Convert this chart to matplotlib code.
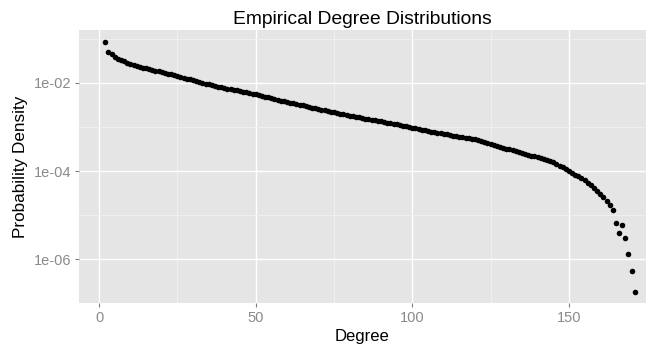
import numpy as np
import matplotlib
matplotlib.use("Agg")
import matplotlib.pyplot as plt
from matplotlib.ticker import FixedLocator, NullFormatter

plt.rcParams['font.family'] = ['Liberation Sans', 'DejaVu Sans']

# degree values (x)
degree = list(range(2, 172))

# log10 of probability density, one per degree 2..171
log10_density = [
    -1.085, -1.298, -1.357, -1.416, -1.455, -1.488, -1.516, -1.545, -1.570, -1.597,   # 2-11
    -1.620, -1.640, -1.658, -1.676, -1.693, -1.710, -1.727, -1.744, -1.761, -1.778,   # 12-21
    -1.795, -1.812, -1.829, -1.849, -1.868, -1.887, -1.906, -1.925, -1.944, -1.964,   # 22-31
    -1.983, -2.002, -2.021, -2.040, -2.059, -2.073, -2.088, -2.103, -2.117, -2.132,   # 32-41
    -2.147, -2.161, -2.176, -2.191, -2.205, -2.220, -2.234, -2.250, -2.267, -2.284,   # 42-51
    -2.301, -2.318, -2.335, -2.352, -2.369, -2.386, -2.403, -2.420, -2.437, -2.452,   # 52-61
    -2.468, -2.484, -2.500, -2.516, -2.532, -2.548, -2.564, -2.580, -2.596, -2.612,   # 62-71
    -2.628, -2.643, -2.657, -2.671, -2.686, -2.700, -2.714, -2.729, -2.743, -2.757,   # 72-81
    -2.772, -2.786, -2.800, -2.812, -2.825, -2.838, -2.851, -2.864, -2.877, -2.890,   # 82-91
    -2.903, -2.916, -2.929, -2.942, -2.955, -2.970, -2.985, -3.001, -3.016, -3.032,   # 92-101
    -3.047, -3.063, -3.078, -3.094, -3.109, -3.125, -3.138, -3.150, -3.161, -3.173,   # 102-111
    -3.185, -3.196, -3.208, -3.220, -3.231, -3.243, -3.255, -3.267, -3.278, -3.297,   # 112-121
    -3.318, -3.340, -3.361, -3.383, -3.404, -3.426, -3.448, -3.469, -3.491, -3.512,   # 122-131
    -3.534, -3.553, -3.573, -3.592, -3.612, -3.632, -3.651, -3.671, -3.690, -3.710,   # 132-141
    -3.730, -3.749, -3.769, -3.800, -3.838, -3.878, -3.918, -3.958, -3.998, -4.040,   # 142-151
    -4.082, -4.124, -4.168, -4.215, -4.268, -4.325, -4.385, -4.448, -4.515, -4.590,   # 152-161
    -4.675, -4.770, -4.880, -5.185, -5.411, -5.223, -5.511, -5.887, -6.258, -6.734,   # 162-171
]
density = [10 ** v for v in log10_density]

x_ticks = [0, 50, 100, 150]
x_minor = [25, 75, 125, 175]
y_ticks = [1e-2, 1e-4, 1e-6]
y_tick_labels = ["1e-02", "1e-04", "1e-06"]
y_minor = [1e-1, 1e-3, 1e-5, 1e-7]

title = "Empirical Degree Distributions"
xlabel = "Degree"
ylabel = "Probability Density"

fig = plt.figure(figsize=(6.5, 3.44), dpi=100)
ax = fig.add_axes([79 / 650, 1 - 303 / 344, (646 - 79) / 650, (303 - 30) / 344])
ax.set_facecolor("#E5E5E5")
for s in ax.spines.values():
    s.set_visible(False)

ax.set_yscale("log")
ax.set_xlim(-6.4, 174.6)
ax.set_ylim(10 ** -6.99, 10 ** -0.806)

ax.xaxis.set_major_locator(FixedLocator(x_ticks))
ax.xaxis.set_minor_locator(FixedLocator(x_minor))
ax.yaxis.set_major_locator(FixedLocator(y_ticks))
ax.yaxis.set_minor_locator(FixedLocator(y_minor))
ax.set_xticklabels([str(t) for t in x_ticks])
ax.set_yticklabels(y_tick_labels)
ax.yaxis.set_minor_formatter(NullFormatter())

ax.grid(which="major", color="white", linewidth=1.0)
ax.grid(which="minor", color="#F2F2F2", linewidth=0.6)
ax.set_axisbelow(True)

ax.tick_params(which="major", length=3, width=0.8, color="#7F7F7F",
               labelcolor="#8A8A8A", labelsize=10.5, pad=2.5)
ax.tick_params(which="minor", length=0)

ax.scatter(degree, density, s=16, color="black", linewidths=0, zorder=3)

ax.set_title(title, fontsize=13.9, pad=4.5)
ax.set_xlabel(xlabel, fontsize=12, labelpad=3)
ax.set_ylabel(ylabel, fontsize=12.3, labelpad=4)

fig.savefig("out.png", dpi=100)
